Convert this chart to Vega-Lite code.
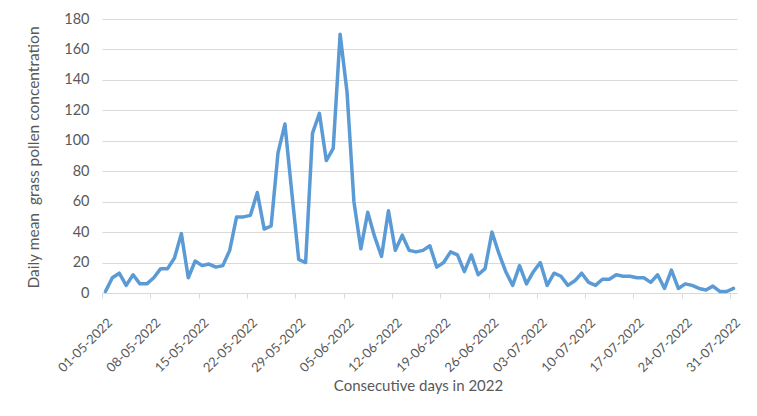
{
  "$schema": "https://vega.github.io/schema/vega-lite/v6.json",
  "autosize": "none",
  "width": 635,
  "height": 274,
  "padding": {"left": 102, "top": 19, "right": 20, "bottom": 123},
  "background": "white",
  "config": {
    "view": {"stroke": null},
    "font": "Lato",
    "axis": {"labelFont": "Lato", "titleFont": "Lato", "labelColor": "#595959", "titleColor": "#595959", "titleFontWeight": "normal"}
  },
  "data": {
    "values": [
      {"date": "2022-05-01", "v": 1}, {"date": "2022-05-02", "v": 10}, {"date": "2022-05-03", "v": 13}, {"date": "2022-05-04", "v": 5},
      {"date": "2022-05-05", "v": 12}, {"date": "2022-05-06", "v": 6}, {"date": "2022-05-07", "v": 6}, {"date": "2022-05-08", "v": 10},
      {"date": "2022-05-09", "v": 16}, {"date": "2022-05-10", "v": 16}, {"date": "2022-05-11", "v": 23}, {"date": "2022-05-12", "v": 39},
      {"date": "2022-05-13", "v": 10}, {"date": "2022-05-14", "v": 21}, {"date": "2022-05-15", "v": 18}, {"date": "2022-05-16", "v": 19},
      {"date": "2022-05-17", "v": 17}, {"date": "2022-05-18", "v": 18}, {"date": "2022-05-19", "v": 28}, {"date": "2022-05-20", "v": 50},
      {"date": "2022-05-21", "v": 50}, {"date": "2022-05-22", "v": 51}, {"date": "2022-05-23", "v": 66}, {"date": "2022-05-24", "v": 42},
      {"date": "2022-05-25", "v": 44}, {"date": "2022-05-26", "v": 92}, {"date": "2022-05-27", "v": 111}, {"date": "2022-05-28", "v": 66},
      {"date": "2022-05-29", "v": 22}, {"date": "2022-05-30", "v": 20}, {"date": "2022-05-31", "v": 105}, {"date": "2022-06-01", "v": 118},
      {"date": "2022-06-02", "v": 87}, {"date": "2022-06-03", "v": 95}, {"date": "2022-06-04", "v": 170}, {"date": "2022-06-05", "v": 132},
      {"date": "2022-06-06", "v": 60}, {"date": "2022-06-07", "v": 29}, {"date": "2022-06-08", "v": 53}, {"date": "2022-06-09", "v": 37},
      {"date": "2022-06-10", "v": 24}, {"date": "2022-06-11", "v": 54}, {"date": "2022-06-12", "v": 28}, {"date": "2022-06-13", "v": 38},
      {"date": "2022-06-14", "v": 28}, {"date": "2022-06-15", "v": 27}, {"date": "2022-06-16", "v": 28}, {"date": "2022-06-17", "v": 31},
      {"date": "2022-06-18", "v": 17}, {"date": "2022-06-19", "v": 20}, {"date": "2022-06-20", "v": 27}, {"date": "2022-06-21", "v": 25},
      {"date": "2022-06-22", "v": 14}, {"date": "2022-06-23", "v": 25}, {"date": "2022-06-24", "v": 12}, {"date": "2022-06-25", "v": 16},
      {"date": "2022-06-26", "v": 40}, {"date": "2022-06-27", "v": 26}, {"date": "2022-06-28", "v": 14}, {"date": "2022-06-29", "v": 5},
      {"date": "2022-06-30", "v": 18}, {"date": "2022-07-01", "v": 6}, {"date": "2022-07-02", "v": 14}, {"date": "2022-07-03", "v": 20},
      {"date": "2022-07-04", "v": 5}, {"date": "2022-07-05", "v": 13}, {"date": "2022-07-06", "v": 11}, {"date": "2022-07-07", "v": 5},
      {"date": "2022-07-08", "v": 8}, {"date": "2022-07-09", "v": 13}, {"date": "2022-07-10", "v": 7}, {"date": "2022-07-11", "v": 5},
      {"date": "2022-07-12", "v": 9}, {"date": "2022-07-13", "v": 9}, {"date": "2022-07-14", "v": 12}, {"date": "2022-07-15", "v": 11},
      {"date": "2022-07-16", "v": 11}, {"date": "2022-07-17", "v": 10}, {"date": "2022-07-18", "v": 10}, {"date": "2022-07-19", "v": 7},
      {"date": "2022-07-20", "v": 12}, {"date": "2022-07-21", "v": 3}, {"date": "2022-07-22", "v": 15}, {"date": "2022-07-23", "v": 3},
      {"date": "2022-07-24", "v": 6}, {"date": "2022-07-25", "v": 5}, {"date": "2022-07-26", "v": 3}, {"date": "2022-07-27", "v": 2},
      {"date": "2022-07-28", "v": 4.5}, {"date": "2022-07-29", "v": 1}, {"date": "2022-07-30", "v": 1}, {"date": "2022-07-31", "v": 3}
    ]
  },
  "mark": {"type": "line", "color": "#5b9bd5", "strokeWidth": 3.5, "strokeJoin": "round", "strokeCap": "round"},
  "encoding": {
    "x": {
      "field": "date",
      "type": "temporal",
      "scale": {"domain": [{"year": 2022, "month": 4, "date": 30, "hours": 12}, {"year": 2022, "month": 7, "date": 31, "hours": 12}]},
      "axis": {
        "values": [
          {"year": 2022, "month": 5, "date": 1}, {"year": 2022, "month": 5, "date": 8}, {"year": 2022, "month": 5, "date": 15},
          {"year": 2022, "month": 5, "date": 22}, {"year": 2022, "month": 5, "date": 29}, {"year": 2022, "month": 6, "date": 5},
          {"year": 2022, "month": 6, "date": 12}, {"year": 2022, "month": 6, "date": 19}, {"year": 2022, "month": 6, "date": 26},
          {"year": 2022, "month": 7, "date": 3}, {"year": 2022, "month": 7, "date": 10}, {"year": 2022, "month": 7, "date": 17},
          {"year": 2022, "month": 7, "date": 24}, {"year": 2022, "month": 7, "date": 31}
        ],
        "format": "%d-%m-%Y",
        "labelAngle": -45,
        "labelAlign": "right",
        "labelBaseline": "top",
        "labelFontSize": 13,
        "labelPadding": 18,
        "labelOverlap": false,
        "labelBound": false,
        "labelFlush": false,
        "grid": false,
        "domainColor": "#d9d9d9",
        "domainWidth": 1,
        "tickColor": "#d9d9d9",
        "tickSize": 5,
        "tickOffset": -3.45,
        "labelOffset": 3.45,
        "title": "Consecutive days in 2022",
        "titleFontSize": 15,
        "titleX": 316,
        "titleY": 92,
        "titleBaseline": "middle",
        "titleAlign": "center"
      }
    },
    "y": {
      "field": "v",
      "type": "quantitative",
      "scale": {"domain": [0, 180], "nice": false},
      "axis": {
        "values": [0, 20, 40, 60, 80, 100, 120, 140, 160, 180],
        "domain": false,
        "ticks": false,
        "gridColor": "#d9d9d9",
        "gridWidth": 1,
        "labelFontSize": 14.5,
        "labelPadding": 13,
        "title": "Daily mean\u00a0 grass pollen concentration",
        "titleFontSize": 15.5,
        "titleAngle": -90,
        "titleX": -69,
        "titleY": 138,
        "titleAlign": "center",
        "titleBaseline": "middle"
      }
    }
  }
}
